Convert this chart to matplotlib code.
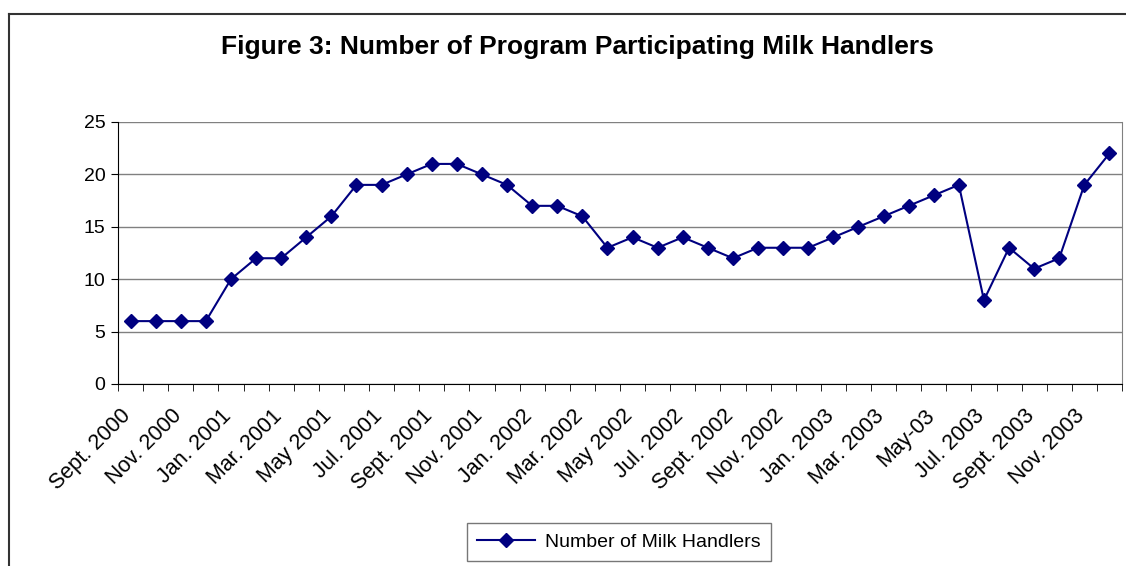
import numpy as np
import matplotlib
matplotlib.use("Agg")
import matplotlib.pyplot as plt
from matplotlib.lines import Line2D
from matplotlib.transforms import ScaledTranslation

plt.rcParams['font.family'] = ['Liberation Sans', 'DejaVu Sans']

# monthly values, Sept. 2000 .. Dec. 2003
handlers = [6, 6, 6, 6,
            10, 12, 12, 14, 16, 19, 19, 20, 21, 21, 20, 19,
            17, 17, 16, 13, 14, 13, 14, 13, 12, 13, 13, 13,
            14, 15, 16, 17, 18, 19, 8, 13, 11, 12, 19, 22]

tick_labels = ['Sept. 2000', 'Nov. 2000', 'Jan. 2001', 'Mar. 2001', 'May 2001',
               'Jul. 2001', 'Sept. 2001', 'Nov. 2001', 'Jan. 2002', 'Mar. 2002',
               'May 2002', 'Jul. 2002', 'Sept. 2002', 'Nov. 2002', 'Jan. 2003',
               'Mar. 2003', 'May-03', 'Jul. 2003', 'Sept. 2003', 'Nov. 2003']

x = np.arange(len(handlers))

fig = plt.figure(figsize=(11.26, 5.66), dpi=100)
ax = fig.add_axes([118/1126, 1 - 384/566, (1122 - 118)/1126, (384 - 122)/566])

ax.plot(x, handlers, color='#000080', lw=1.5, marker='D', markersize=7,
        label='Number of Milk Handlers', zorder=3)

ax.set_xlim(-0.5, len(handlers) - 0.5)
ax.set_ylim(0, 25)
ax.set_yticks(range(0, 26, 5))
ax.yaxis.grid(True, color='#808080', lw=1)
ax.set_axisbelow(True)

# ticks between categories, labels every second month
ax.set_xticks(np.arange(-0.5, len(handlers), 1), minor=True)
ax.set_xticks(x[::2])
ax.set_xticklabels(tick_labels, rotation=45, ha='right', rotation_mode='anchor')
ax.tick_params(axis='x', which='major', length=0, pad=14, labelsize=15.5)
ax.tick_params(axis='x', which='minor', length=5, direction='out', color='black')
ax.tick_params(axis='y', length=5, labelsize=14, pad=4)
shift = ScaledTranslation(-10/100, -2/100, fig.dpi_scale_trans)
for lbl in ax.get_xticklabels():
    lbl.set_transform(lbl.get_transform() + shift)

ax.spines['left'].set_color('black')
ax.spines['bottom'].set_color('black')
ax.spines['right'].set_color('#808080')
ax.spines['top'].set_visible(False)

fig.text(577/1126, 1 - 47/566, 'Figure 3: Number of Program Participating Milk Handlers',
         ha='center', va='center', fontsize=19, fontweight='bold')

leg = fig.legend(loc='center', bbox_to_anchor=(619/1126, 1 - 542/566), fontsize=14,
                 frameon=True, fancybox=False, edgecolor='#555555', handlelength=3,
                 borderpad=0.5, handletextpad=0.5)
leg.get_frame().set_linewidth(1)

# outer chart frame
fig.add_artist(Line2D([9/1126, 9/1126], [0, 1 - 14/566], transform=fig.transFigure,
                      color='#333333', lw=1.5))
fig.add_artist(Line2D([9/1126, 1], [1 - 14/566, 1 - 14/566], transform=fig.transFigure,
                      color='#333333', lw=1.5))

fig.savefig('out.png', dpi=100)
